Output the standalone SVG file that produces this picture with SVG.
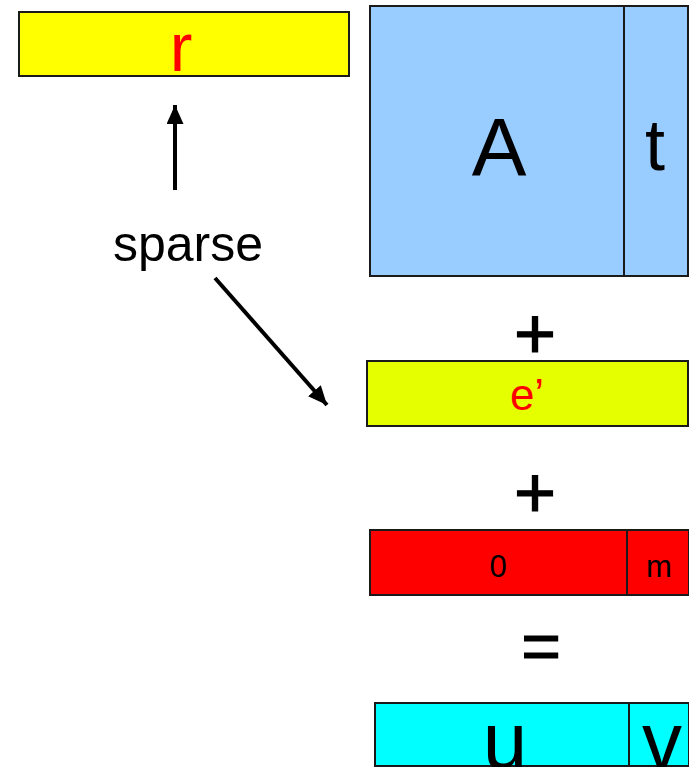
<svg xmlns="http://www.w3.org/2000/svg" width="689" height="767" viewBox="0 0 689 767">
<style>
.box{stroke:#1a1a1a;stroke-width:2}
.div{stroke:#1a1a1a;stroke-width:2}
.t{font-family:"Liberation Sans",Arial,sans-serif;text-anchor:middle}
.blk{fill:#000}
.red{fill:#FF0000}
.op{stroke:#000;stroke-width:1.2}
.conn{stroke:#000;stroke-width:4;fill:none}
</style>
<defs>
<marker id="ah" markerUnits="userSpaceOnUse" markerWidth="22" markerHeight="20" refX="19" refY="8.5" orient="auto">
<path d="M0,0 L19,8.5 L0,17 Z" fill="#000"/>
</marker>
</defs>
<rect width="689" height="767" fill="#fff"/>
<g id="r">
<rect class="box" x="19" y="12" width="330" height="64" fill="#FFFF00"/>
<text class="t red" x="181" y="71" font-size="68">r</text>
</g>
<g id="At">
<rect class="box" x="370" y="6" width="318" height="270" fill="#99CCFF"/>
<line class="div" x1="624" y1="6" x2="624" y2="276"/>
<text class="t blk" x="499" y="175" font-size="82">A</text>
<text class="t blk" x="655" y="170" font-size="72">t</text>
</g>
<g id="sparse">
<text class="blk" x="113" y="261" font-size="50" font-family="Liberation Sans,Arial,sans-serif">sparse</text>
</g>
<g id="plus1"><text class="t blk op" x="535" y="358" font-size="72">+</text></g>
<g id="e">
<rect class="box" x="367" y="361" width="321" height="65" fill="#E6FF00"/>
<text class="t red" x="527" y="410" font-size="44">e’</text>
</g>
<g id="plus2"><text class="t blk op" x="535" y="517" font-size="72">+</text></g>
<g id="m">
<rect class="box" x="370" y="530" width="319" height="65" fill="#FF0000"/>
<line class="div" x1="627" y1="530" x2="627" y2="595"/>
<text class="t blk" x="498" y="577" font-size="31">0</text>
<text class="t blk" x="659" y="577" font-size="31">m</text>
</g>
<g id="eq"><text class="t blk op" x="541" y="670" font-size="68">=</text></g>
<g id="uv">
<rect class="box" x="375" y="703" width="314" height="63" fill="#00FFFF"/>
<line class="div" x1="629" y1="703" x2="629" y2="767"/>
<text class="t blk" x="505" y="768" font-size="80">u</text>
<text class="t blk" x="662" y="768" font-size="80">v</text>
</g>
<g id="connectors">
<line class="conn" x1="175" y1="190" x2="175" y2="105" marker-end="url(#ah)"/>
<line class="conn" x1="215" y1="278" x2="327" y2="405" marker-end="url(#ah)"/>
</g>
</svg>
